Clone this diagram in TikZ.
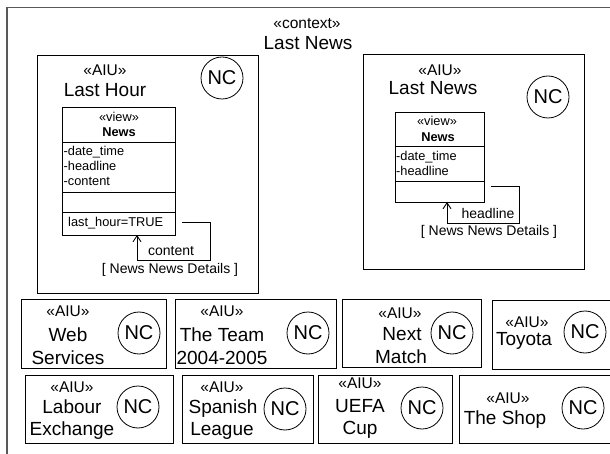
\documentclass[tikz,border=0pt]{standalone}
\usepackage{fontspec}
\setmainfont{Liberation Sans}
\usetikzlibrary{arrows.meta,calc}
\begin{document}
\begin{tikzpicture}[x=1pt,y=-1pt,
  frame/.style={draw=black!65, line width=1.5pt},
  unit/.style={draw, line width=0.9pt},
  classbox/.style={draw, line width=0.9pt, inner sep=0pt, outer sep=0pt},
  sep/.style={line width=0.9pt},
  nc/.style={draw, circle, line width=0.8pt, minimum size=42pt, inner sep=0pt,
    font=\fontsize{20}{20}\selectfont},
  big/.style={font=\fontsize{19}{22}\selectfont, inner sep=0pt, text height=13.6pt, text depth=0pt},
  stereo/.style={font=\fontsize{15.5}{18}\selectfont, inner sep=0pt, text height=11.1pt, text depth=0pt},
  lbl/.style={font=\fontsize{14}{16}\selectfont, inner sep=0pt, text height=10pt, text depth=0pt},
  attr/.style={font=\fontsize{12.8}{15}\selectfont, inner sep=0pt, text height=9.2pt, text depth=0pt},
  flow/.style={line width=0.9pt, -{Straight Barb[length=6pt,width=8pt]}}
]
\useasboundingbox (0,0) rectangle (610,454);
\fill[white] (0,0) rectangle (610,454);

% context frame
\draw[frame] (7,470) -- (7,7.5) -- (620,7.5);
\node[stereo] (ctxst) at (307,23) {«context»};
\node[big] (ctxname) at (308,43) {Last News};

% ---- AIU: Last Hour ----
\draw[unit] (37,55) rectangle (258,293);
\node[stereo] (lhst) at (105,70) {«AIU»};
\node[big] (lhname) at (105,90) {Last Hour};
\node[nc] (lhnc) at (222,78) {NC};
\node[classbox, minimum width=113pt, minimum height=128pt] (cls1) at (118.5,171) {};
\draw[sep] (cls1.west |- 0,142) -- (cls1.east |- 0,142);
\draw[sep] (cls1.west |- 0,192) -- (cls1.east |- 0,192);
\draw[sep] (cls1.west |- 0,212) -- (cls1.east |- 0,212);
\node[attr] (c1st) at (119,117) {«view»};
\node[attr, font=\fontsize{12.8}{15}\selectfont\bfseries] (c1nm) at (119,132) {News};
\node[attr, anchor=west] (c1a1) at (63.5,151) {-date\_time};
\node[attr, anchor=west] (c1a2) at (63.5,166) {-headline};
\node[attr, anchor=west] (c1a3) at (63.5,181) {-content};
\node[attr, anchor=west] (c1k) at (68,222) {last\_hour=TRUE};
\draw[flow] ($(cls1.south east)+(7,-13)$) -| ($(cls1.south east)+(35,25)$) -| ($(cls1.south west)+(75,0)$);
\node[lbl] (c1l) at (171,250) {content};
\node[lbl] (c1t) at (170,268) {[ News News Details ]};

% ---- AIU: Last News ----
\draw[unit] (363,54) rectangle (584,269);
\node[stereo] (lnst) at (440,70) {«AIU»};
\node[big] (lnname) at (433,88) {Last News};
\node[nc] (lnnc) at (548,97) {NC};
\node[classbox, minimum width=89pt, minimum height=90pt] (cls2) at (439.5,157) {};
\draw[sep] (cls2.west |- 0,146) -- (cls2.east |- 0,146);
\draw[sep] (cls2.west |- 0,181) -- (cls2.east |- 0,181);
\node[attr] (c2st) at (437,121) {«view»};
\node[attr, font=\fontsize{12.8}{15}\selectfont\bfseries] (c2nm) at (438,137) {News};
\node[attr, anchor=west] (c2a1) at (396,156) {-date\_time};
\node[attr, anchor=west] (c2a2) at (396,171) {-headline};
\draw[flow] ($(cls2.south east)+(7,-16)$) -| ($(cls2.south east)+(35,21)$) -| ($(cls2.south west)+(52,0)$);
\node[lbl] (c2l) at (488,214) {headline};
\node[lbl] (c2t) at (489,231) {[ News News Details ]};

% ---- first row of AIUs ----
\draw[unit] (21,299) rectangle (166,368);
\node[stereo] (wsst) at (68,311) {«AIU»};
\node[big] (wsn1) at (68,335) {Web};
\node[big] (wsn2) at (68,358) {Services};
\node[nc] (wsnc) at (139,333) {NC};

\draw[unit] (175,299) rectangle (336,368);
\node[stereo] (tmst) at (222,311) {«AIU»};
\node[big] (tmn1) at (222,335) {The Team};
\node[big] (tmn2) at (222,358) {2004-2005};
\node[nc] (tmnc) at (308,333) {NC};

\draw[unit] (342,299) rectangle (481,367);
\node[stereo] (nmst) at (400,313) {«AIU»};
\node[big] (nmn1) at (402,334) {Next};
\node[big] (nmn2) at (401,357) {Match};
\node[nc] (nmnc) at (452,333) {NC};

\draw[unit] (492,300) rectangle (616,369);
\node[stereo] (tyst) at (527,322) {«AIU»};
\node[big] (tyn1) at (524,339) {Toyota};
\node[nc] (tync) at (585,332) {NC};

% ---- second row of AIUs ----
\draw[unit] (25,375) rectangle (173,443);
\node[stereo] (lest) at (72,387) {«AIU»};
\node[big] (len1) at (72,407) {Labour};
\node[big] (len2) at (72,429) {Exchange};
\node[nc] (lenc) at (138,407) {NC};

\draw[unit] (182,375) rectangle (313,443);
\node[stereo] (slst) at (222,387) {«AIU»};
\node[big] (sln1) at (223,407) {Spanish};
\node[big] (sln2) at (222,429) {League};
\node[nc] (slnc) at (285,409) {NC};

\draw[unit] (318,375) rectangle (452,443);
\node[stereo] (ucst) at (360,383) {«AIU»};
\node[big] (ucn1) at (360,406) {UEFA};
\node[big] (ucn2) at (360,428) {Cup};
\node[nc] (ucnc) at (422,408) {NC};

\draw[unit] (459,375) rectangle (616,443);
\node[stereo] (tsst) at (508,398) {«AIU»};
\node[big] (tsn1) at (505,418) {The Shop};
\node[nc] (tsnc) at (583,408) {NC};
\end{tikzpicture}
\end{document}
